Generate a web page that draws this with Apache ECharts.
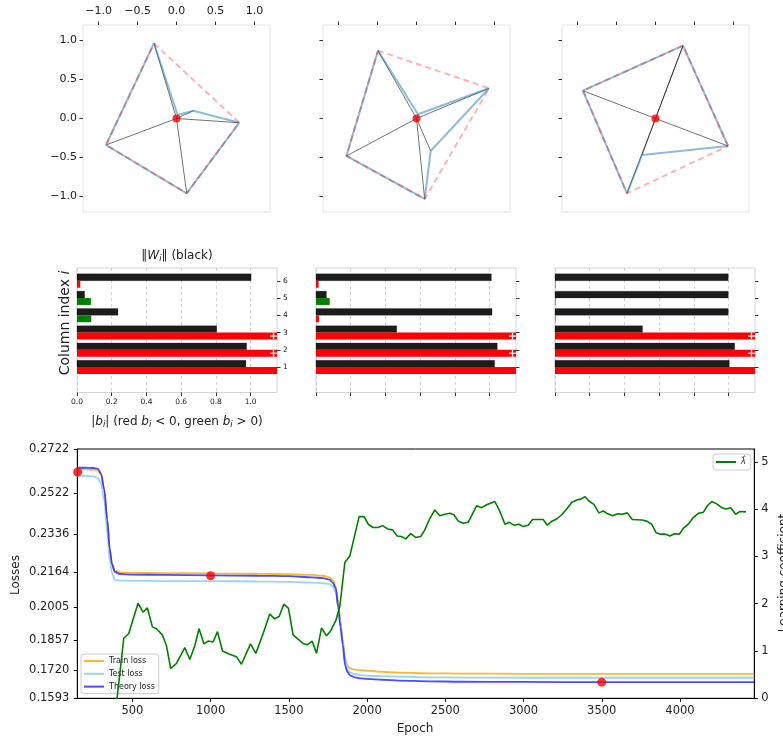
<!DOCTYPE html>
<html>
<head>
<meta charset="utf-8">
<script src="https://cdn.jsdelivr.net/npm/echarts@6/dist/echarts.min.js"></script>
<style>
html, body { margin: 0; padding: 0; background: #fff; }
#main { width: 783px; height: 740px; }
</style>
</head>
<body>
<div id="main"></div>
<script>
// ---- top row: the 6 columns W_i in the plane, listed in angular order (blue polygon)
var wPoints1 = [[0.806, -0.054], [0.216, 0.100], [0.015, 0.045], [-0.289, 0.965], [-0.905, -0.340], [0.131, -0.960]];
var hull1 = [3, 0, 5, 4, 3];
var wPoints2 = [[0.931, 0.388], [0.019, 0.054], [-0.494, 0.870], [-0.900, -0.481], [0.105, -1.033], [0.182, -0.417]];
var hull2 = [2, 0, 4, 3, 2];
var wPoints3 = [[0.931, -0.353], [0.353, 0.935], [0.353, 0.935], [-0.931, 0.357], [-0.366, -0.960], [-0.173, -0.469]];
var hull3 = [0, 1, 3, 4, 0];
var planeTicks = [-1, -0.5, 0, 0.5, 1];

// ---- middle row: ||W_i|| (black) and b_i (red < 0, green > 0), rows 1..6
var columnIdx = [1, 2, 3, 4, 5, 6];
var wNorm1 = [0.973, 0.977, 0.805, 0.236, 0.044, 1.003];
var bias1 = [-1.152, -1.35, -1.30, 0.082, 0.080, -0.019];
var wNorm2 = [1.029, 1.044, 0.465, 1.014, 0.060, 1.010];
var bias2 = [-1.152, -1.35, -1.30, -0.017, 0.079, -0.015];
var wNorm3 = [1.004, 1.035, 0.504, 0.998, 0.998, 0.998];
var bias3 = [-1.152, -1.35, -1.30, -0.003, -0.003, -0.003];
var barTicks = [0, 0.2, 0.4, 0.6, 0.8, 1.0];
var barMax = 1.152;

// ---- bottom: losses and learning coefficient
var lossEpochs = [148, 200, 250, 280, 300, 320, 340, 355, 370, 387, 420, 500, 700, 1000, 1300, 1500, 1650, 1720, 1760, 1780, 1800, 1815, 1830, 1845, 1860, 1875, 1890, 1920, 1960, 2000, 2100, 2200, 2400, 2600, 3000, 3500, 4000, 4475];
var trainLoss = [0.2630, 0.2630, 0.2628, 0.2624, 0.2603, 0.2535, 0.2398, 0.2272, 0.2203, 0.2172, 0.2163, 0.2161, 0.2160, 0.2159, 0.2157, 0.2155, 0.2152, 0.2148, 0.2141, 0.2130, 0.2100, 0.2040, 0.1945, 0.1855, 0.1775, 0.1740, 0.1729, 0.1723, 0.1720, 0.1718, 0.1713, 0.1709, 0.1706, 0.1705, 0.1704, 0.1704, 0.1704, 0.1704];
var testLoss = [0.2600, 0.2600, 0.2598, 0.2590, 0.2565, 0.2490, 0.2340, 0.2220, 0.2160, 0.2130, 0.2126, 0.2125, 0.2124, 0.2124, 0.2122, 0.2120, 0.2117, 0.2114, 0.2110, 0.2100, 0.2075, 0.2010, 0.1925, 0.1840, 0.1760, 0.1722, 0.1710, 0.1703, 0.1698, 0.1695, 0.1693, 0.1691, 0.1688, 0.1687, 0.1686, 0.1686, 0.1686, 0.1686];
var theoryLoss = [0.2637, 0.2637, 0.2636, 0.2632, 0.2610, 0.2540, 0.2400, 0.2272, 0.2200, 0.2166, 0.2156, 0.2153, 0.2152, 0.2150, 0.2148, 0.2146, 0.2141, 0.2137, 0.2130, 0.2118, 0.2091, 0.2008, 0.1915, 0.1835, 0.1740, 0.1712, 0.1697, 0.1688, 0.1683, 0.1681, 0.1677, 0.1673, 0.1670, 0.1668, 0.1667, 0.1666, 0.1666, 0.1666];
var lambdaEpochs = [395, 402, 445, 477, 536, 568, 596, 628, 654, 692, 718, 745, 782, 835, 867, 899, 926, 958, 984, 1016, 1044, 1076, 1122, 1165, 1197, 1255, 1289, 1336, 1378, 1410, 1438, 1468, 1498, 1527, 1559, 1591, 1617, 1649, 1677, 1709, 1741, 1768, 1800, 1826, 1858, 1890, 1949, 1981, 2007, 2039, 2071, 2099, 2131, 2163, 2192, 2219, 2247, 2279, 2311, 2343, 2369, 2401, 2433, 2465, 2497, 2529, 2555, 2582, 2614, 2646, 2700, 2732, 2764, 2785, 2817, 2849, 2881, 2909, 2939, 2971, 2998, 3030, 3058, 3126, 3152, 3184, 3212, 3244, 3276, 3308, 3340, 3365, 3393, 3418, 3450, 3482, 3510, 3538, 3570, 3602, 3631, 3663, 3695, 3759, 3791, 3819, 3847, 3877, 3909, 3936, 3964, 3996, 4021, 4053, 4085, 4117, 4149, 4175, 4203, 4235, 4267, 4294, 4324, 4356, 4384, 4422];
var lambdaHat = [-0.2, 0.0, 1.27, 1.37, 2.01, 1.82, 1.91, 1.51, 1.47, 1.34, 1.11, 0.63, 0.74, 1.07, 0.82, 1.11, 1.47, 1.15, 1.21, 1.19, 1.41, 1.00, 0.93, 0.88, 0.72, 1.15, 0.95, 1.37, 1.78, 1.68, 1.73, 1.99, 1.90, 1.34, 1.25, 1.16, 1.13, 1.21, 0.95, 1.49, 1.32, 1.43, 1.64, 1.94, 2.87, 3.01, 3.84, 3.84, 3.68, 3.61, 3.61, 3.65, 3.58, 3.56, 3.43, 3.42, 3.37, 3.48, 3.40, 3.42, 3.56, 3.80, 3.98, 3.86, 3.89, 3.91, 3.88, 3.75, 3.70, 3.72, 4.07, 4.03, 4.09, 4.12, 4.16, 3.95, 3.68, 3.72, 3.66, 3.68, 3.63, 3.66, 3.78, 3.78, 3.66, 3.75, 3.79, 3.88, 4.00, 4.14, 4.19, 4.21, 4.26, 4.17, 4.10, 3.92, 3.96, 3.90, 3.86, 3.90, 3.89, 3.92, 3.78, 3.77, 3.74, 3.68, 3.50, 3.47, 3.47, 3.43, 3.48, 3.47, 3.59, 3.68, 3.82, 3.91, 3.93, 4.07, 4.16, 4.11, 4.03, 4.00, 4.03, 3.89, 3.95, 3.94];
var checkpointEpochs = [150, 1000, 3500];
var checkpointLoss = [0.2618, 0.2148, 0.1666];
var lossTicks = [0.1593, 0.1720, 0.1857, 0.2005, 0.2164, 0.2336, 0.2522, 0.2722];
var epochTicks = [500, 1000, 1500, 2000, 2500, 3000, 3500, 4000];
var lambdaTicks = [0, 1, 2, 3, 4, 5];

var FONT = 'DejaVu Sans';
var chart = echarts.init(document.getElementById('main'));

function zip(xs, ys) {
    return xs.map(function (x, k) { return [x, ys[k]]; });
}
function minusFmt(v) {
    return (v < 0 ? '\u2212' : '') + Math.abs(v).toFixed(1);
}

var planes = [wPoints1, wPoints2, wPoints3];
var hulls = [hull1, hull2, hull3];
var norms = [wNorm1, wNorm2, wNorm3];
var biases = [bias1, bias2, bias3];
var planeLeft = [83, 323, 562];
var barLeft = [77, 316, 555];

var grids = [], xAxes = [], yAxes = [], series = [];

// top row
planes.forEach(function (pts, i) {
    grids.push({ left: planeLeft[i], top: 25, width: 187, height: 187, show: true,
        borderColor: '#e2e2e2', borderWidth: 1, backgroundColor: '#fff', outerBoundsMode: 'none' });
    xAxes.push({ gridIndex: i, type: 'value', min: -1.2, max: 1.2, position: 'top',
        axisLine: { show: false, onZero: false }, splitLine: { show: false },
        axisTick: { show: true, customValues: planeTicks, length: 3.5, lineStyle: { color: '#333', width: 1 } },
        axisLabel: { show: i === 0, customValues: planeTicks, formatter: minusFmt, fontSize: 11,
            fontFamily: FONT, color: '#222', margin: 8 } });
    yAxes.push({ gridIndex: i, type: 'value', min: -1.2, max: 1.2, position: 'left',
        axisLine: { show: false, onZero: false }, splitLine: { show: false },
        axisTick: { show: true, customValues: planeTicks, length: 3.5, lineStyle: { color: '#333', width: 1 } },
        axisLabel: { show: i === 0, customValues: planeTicks, formatter: minusFmt, fontSize: 11,
            fontFamily: FONT, color: '#222', margin: 6 } });
    series.push({
        type: 'lines', coordinateSystem: 'cartesian2d', xAxisIndex: i, yAxisIndex: i, silent: true,
        data: pts.map(function (p) { return { coords: [[0, 0], p] }; }),
        lineStyle: { color: '#000', width: 0.7, opacity: 0.8, curveness: 0 }, z: 2
    });
    series.push({
        type: 'line', xAxisIndex: i, yAxisIndex: i, symbol: 'none', silent: true,
        data: pts.concat([pts[0]]),
        lineStyle: { color: 'rgba(31,119,180,0.5)', width: 2 }, z: 3
    });
    series.push({
        type: 'line', xAxisIndex: i, yAxisIndex: i, symbol: 'none', silent: true,
        data: hulls[i].map(function (k) { return pts[k]; }),
        lineStyle: { color: 'rgba(255,0,0,0.3)', width: 2, type: [6, 4] }, z: 4
    });
    series.push({
        type: 'scatter', xAxisIndex: i, yAxisIndex: i, silent: true,
        data: [[0, 0]], symbolSize: 8, itemStyle: { color: '#ff0000' }, z: 5
    });
});

// middle row
function barRender(params, api) {
    var row = api.value(0), norm = api.value(1), b = api.value(2);
    var bw = Math.min(Math.abs(b), barMax);
    var k0 = api.coord([0, row + 0.4]), k1 = api.coord([norm, row]);
    var r0 = api.coord([0, row]), r1 = api.coord([bw, row - 0.4]);
    var kids = [
        { type: 'rect', shape: { x: k0[0], y: k0[1], width: k1[0] - k0[0], height: k1[1] - k0[1] },
          style: { fill: '#1c1c1c', stroke: 'rgba(0,0,0,0.35)', lineWidth: 0.6 } },
        { type: 'rect', shape: { x: r0[0], y: r0[1], width: r1[0] - r0[0], height: r1[1] - r0[1] },
          style: { fill: b < 0 ? '#ff0000' : '#008000' } }
    ];
    if (Math.abs(b) > barMax) {
        var c = api.coord([barMax, row - 0.2]);
        kids.push({ type: 'line', shape: { x1: c[0] - 7, y1: c[1], x2: c[0], y2: c[1] },
            style: { stroke: '#fff', lineWidth: 1.3 } });
        kids.push({ type: 'line', shape: { x1: c[0] - 3.5, y1: c[1] - 3.4, x2: c[0] - 3.5, y2: c[1] + 3.4 },
            style: { stroke: '#fff', lineWidth: 1.3 } });
    }
    return { type: 'group', children: kids };
}

norms.forEach(function (nrm, i) {
    var gi = 3 + i;
    grids.push({ left: barLeft[i], top: 268, width: 200, height: 124.5, show: true,
        borderColor: '#d4d4d4', borderWidth: 1, backgroundColor: '#fff', outerBoundsMode: 'none' });
    xAxes.push({ gridIndex: gi, type: 'value', min: 0, max: barMax, interval: 0.2, position: 'bottom',
        axisLine: { show: false, onZero: false },
        splitLine: { show: true, lineStyle: { color: '#c8c8c8', width: 0.8, type: [3, 3] } },
        axisTick: { show: true, customValues: barTicks, length: 3.5, lineStyle: { color: '#333', width: 1 } },
        axisLabel: { show: i === 0, customValues: barTicks, formatter: function (v) { return v.toFixed(1); },
            fontSize: 7.5, fontFamily: FONT, color: '#222', margin: 6 } });
    yAxes.push({ gridIndex: gi, type: 'value', min: -0.47, max: 6.74, position: 'right',
        axisLine: { show: false, onZero: false }, splitLine: { show: false },
        axisTick: { show: true, customValues: columnIdx, length: 3.5, lineStyle: { color: '#333', width: 1 } },
        axisLabel: { show: i === 0, customValues: columnIdx, fontSize: 7.5, fontFamily: FONT,
            color: '#222', margin: 6 } });
    series.push({
        type: 'custom', xAxisIndex: gi, yAxisIndex: gi, silent: true,
        data: columnIdx.map(function (r, k) { return [r, nrm[k], biases[i][k]]; }),
        encode: { x: 1, y: 0 },
        renderItem: barRender, z: 3
    });
});

// bottom chart
grids.push({ left: 77.3, top: 449, width: 677, height: 249.3, show: true,
    borderColor: '#000', borderWidth: 1, backgroundColor: '#fff', outerBoundsMode: 'none' });
xAxes.push({ gridIndex: 6, type: 'value', min: 148, max: 4475, position: 'bottom',
    axisLine: { show: true, onZero: false, lineStyle: { color: '#000', width: 1 } }, splitLine: { show: false },
    axisTick: { show: true, customValues: epochTicks, length: 3.5, lineStyle: { color: '#000', width: 1 } },
    axisLabel: { customValues: epochTicks, formatter: function (v) { return String(v); },
        fontSize: 11.5, fontFamily: FONT, color: '#222', margin: 7 } });
yAxes.push({ gridIndex: 6, type: 'value', min: 0.1593, max: 0.2722, position: 'left',
    axisLine: { show: true, onZero: false, lineStyle: { color: '#000', width: 1 } }, splitLine: { show: false },
    axisTick: { show: true, customValues: lossTicks, length: 3.5, lineStyle: { color: '#000', width: 1 } },
    axisLabel: { customValues: lossTicks, formatter: function (v) { return v.toFixed(4); },
        fontSize: 11.5, fontFamily: FONT, color: '#222', margin: 8 } });
yAxes.push({ gridIndex: 6, type: 'value', min: 0, max: 5.27, position: 'right',
    axisLine: { show: true, onZero: false, lineStyle: { color: '#000', width: 1 } }, splitLine: { show: false },
    axisTick: { show: true, customValues: lambdaTicks, length: 3.5, lineStyle: { color: '#000', width: 1 } },
    axisLabel: { customValues: lambdaTicks, fontSize: 11.5, fontFamily: FONT, color: '#222', margin: 7 } });

function lossLine(name, vals, color) {
    return { name: name, type: 'line', xAxisIndex: 6, yAxisIndex: 6, symbol: 'none',
        data: zip(lossEpochs, vals), smooth: 0.3, smoothMonotone: 'x',
        lineStyle: { color: color, width: 1.8 }, itemStyle: { color: color }, z: 2 };
}
series.push(lossLine('Train loss', trainLoss, 'rgba(255,165,0,0.8)'));
series.push(lossLine('Test loss', testLoss, 'rgba(135,206,235,0.85)'));
series.push(lossLine('Theory loss', theoryLoss, 'rgba(30,30,255,0.8)'));
series.push({ type: 'scatter', xAxisIndex: 6, yAxisIndex: 6, symbolSize: 9,
    data: zip(checkpointEpochs, checkpointLoss), itemStyle: { color: '#ff0000' }, z: 4 });
series.push({ name: '\u03bb\u0302', type: 'line', xAxisIndex: 6, yAxisIndex: 7, symbol: 'none',
    data: zip(lambdaEpochs, lambdaHat), lineStyle: { color: '#008000', width: 1.6 },
    itemStyle: { color: '#008000' }, z: 3 });

var txt = { fontFamily: FONT, fill: '#222', color: '#222' };
function label(x, y, rich, rot, extra) {
    return { type: 'text', x: x, y: y, rotation: rot || 0, silent: true, z: 10,
        style: Object.assign({ text: rich, align: 'center', verticalAlign: 'middle',
            textAlign: 'center', textVerticalAlign: 'middle', fontFamily: FONT, fontSize: 12, fill: '#222' }, extra || {}) };
}
var richDefs = {
    n: Object.assign({ fontSize: 12, lineHeight: 15 }, txt),
    big: Object.assign({ fontSize: 14, lineHeight: 16 }, txt),
    it: Object.assign({ fontSize: 12, fontStyle: 'italic', lineHeight: 15 }, txt),
    itb: Object.assign({ fontSize: 14, fontStyle: 'italic', lineHeight: 16 }, txt),
    s: Object.assign({ fontSize: 8.5, fontStyle: 'italic', lineHeight: 15, verticalAlign: 'bottom' }, txt)
};

var legendBase = {
    orient: 'vertical', itemWidth: 20, itemHeight: 8, selectedMode: false,
    borderColor: '#cccccc', borderWidth: 1, borderRadius: 3, backgroundColor: 'rgba(255,255,255,0.8)',
    itemStyle: { opacity: 0 }, lineStyle: { opacity: 1 }
};

var option = {
    animation: false,
    backgroundColor: '#ffffff',
    grid: grids,
    xAxis: xAxes,
    yAxis: yAxes,
    legend: [
        Object.assign({}, legendBase, { data: ['Train loss', 'Test loss', 'Theory loss'], left: 81, top: 654,
          itemGap: 4.8, padding: [3, 4, 3, 2], z: 1,
          textStyle: { fontFamily: FONT, fontSize: 8, color: '#222' } }),
        Object.assign({}, legendBase, { data: ['\u03bb\u0302'], left: 713, top: 454, padding: [4, 5, 4, 2],
          textStyle: { fontFamily: FONT, fontSize: 8, fontStyle: 'italic', color: '#222' } })
    ],
    graphic: [
        label(177, 256, '{n|\u2016}{it|W}{s|i}{n|\u2016 (black)}', 0, { rich: richDefs }),
        label(177, 421.5, '{n||}{it|b}{s|i}{n|| (red }{it|b}{s|i}{n| < 0, green }{it|b}{s|i}{n| > 0)}', 0, { rich: richDefs }),
        label(65.5, 323, '{big|Column index }{itb|i}', Math.PI / 2, { rich: richDefs }),
        label(16, 575, 'Losses', Math.PI / 2, { fontSize: 12 }),
        label(415, 729, 'Epoch', 0, { fontSize: 12 }),
        label(783.5, 573, 'Learning coefficient', Math.PI / 2, { fontSize: 12 })
    ],
    series: series
};
chart.setOption(option);
</script>
</body>
</html>
